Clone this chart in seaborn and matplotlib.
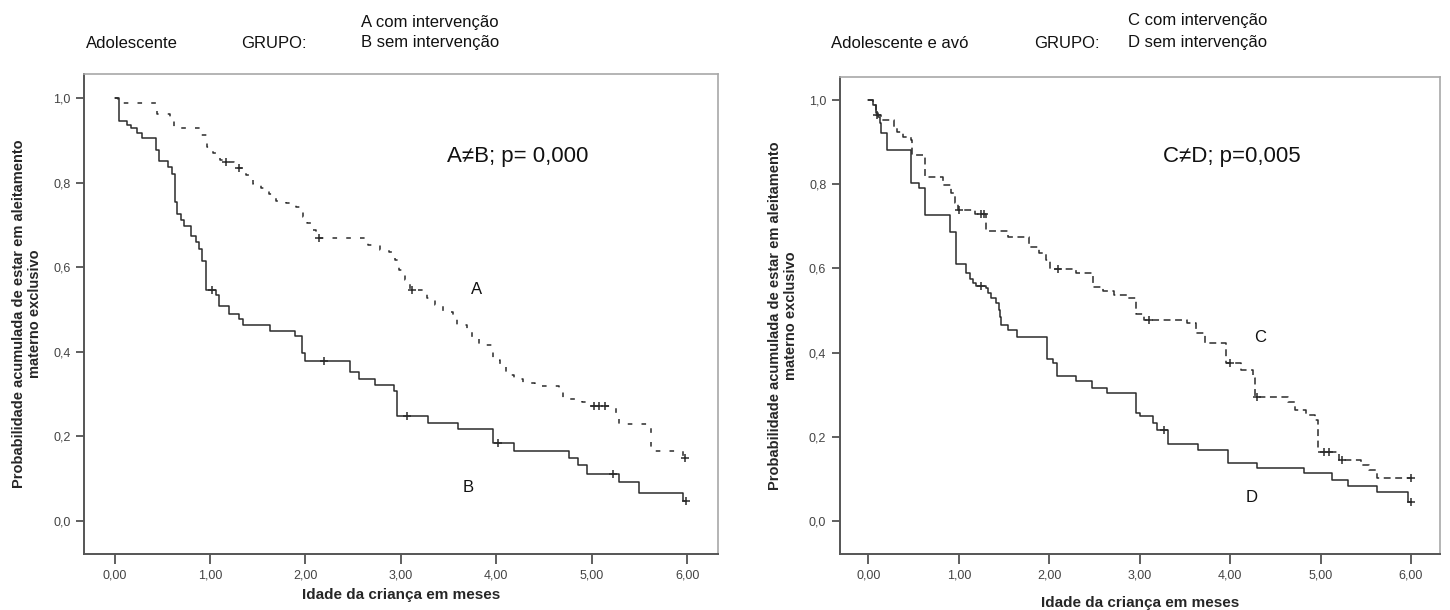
import numpy as np
import pandas as pd
import matplotlib
matplotlib.use('Agg')
import matplotlib.pyplot as plt
import seaborn as sns

# Grupo A (adolescente, com intervenção): tempos (meses) e probabilidade acumulada
a_tempo = [0, 0.03, 0.44, 0.58, 0.625, 0.90, 0.97, 1.03, 1.10, 1.16, 1.25, 1.38, 1.45, 1.53, 1.62,
           1.69, 1.80, 1.90, 1.97, 2.02, 2.07, 2.11, 2.66, 2.78, 2.88, 2.94, 2.98, 3.04, 3.09, 3.27,
           3.36, 3.44, 3.55, 3.59, 3.69, 3.75, 3.82, 3.96, 4.04, 4.10, 4.18, 4.28, 4.40, 4.66, 4.70,
           4.90, 4.98, 5.25, 5.29, 5.62, 5.96]
a_prob = [1.0, 0.987, 0.963, 0.951, 0.928, 0.912, 0.885, 0.869, 0.853, 0.848, 0.834, 0.818, 0.797,
          0.786, 0.774, 0.757, 0.751, 0.743, 0.719, 0.704, 0.688, 0.668, 0.652, 0.641, 0.635, 0.617,
          0.593, 0.570, 0.546, 0.527, 0.511, 0.495, 0.487, 0.463, 0.452, 0.432, 0.416, 0.381, 0.366,
          0.345, 0.335, 0.326, 0.319, 0.311, 0.287, 0.282, 0.272, 0.255, 0.229, 0.166, 0.148]
a_censura = [1.17, 1.30, 2.14, 3.12, 5.02, 5.08, 5.14, 5.98]
a_fim = 5.98

# Grupo B (adolescente, sem intervenção)
b_tempo = [0, 0.05, 0.13, 0.17, 0.23, 0.29, 0.43, 0.46, 0.555, 0.60, 0.63, 0.65, 0.695, 0.73, 0.80,
           0.85, 0.885, 0.92, 0.955, 1.06, 1.09, 1.20, 1.30, 1.35, 1.625, 1.89, 1.96, 2.00, 2.465,
           2.56, 2.73, 2.93, 2.96, 3.28, 3.60, 3.96, 4.19, 4.76, 4.86, 4.955, 5.29, 5.50, 5.96]
b_prob = [1.0, 0.945, 0.936, 0.928, 0.918, 0.905, 0.877, 0.850, 0.836, 0.820, 0.753, 0.725, 0.711,
          0.697, 0.674, 0.660, 0.642, 0.615, 0.546, 0.534, 0.507, 0.489, 0.477, 0.463, 0.449, 0.436,
          0.396, 0.379, 0.352, 0.336, 0.322, 0.308, 0.247, 0.232, 0.217, 0.185, 0.166, 0.148, 0.131,
          0.111, 0.091, 0.067, 0.046]
b_censura = [1.02, 2.19, 3.06, 4.02, 5.22, 5.99]
b_fim = 5.99

# Grupo C (adolescente e avó, com intervenção)
c_tempo = [0, 0.05, 0.085, 0.14, 0.28, 0.31, 0.38, 0.47, 0.48, 0.62, 0.82, 0.91, 0.96, 0.99, 1.18,
           1.30, 1.54, 1.78, 1.89, 1.96, 2.01, 2.30, 2.48, 2.59, 2.72, 2.87, 2.96, 3.05, 3.52, 3.62,
           3.72, 3.96, 4.12, 4.25, 4.28, 4.64, 4.72, 4.84, 4.94, 4.97, 5.20, 5.45, 5.54, 5.62]
c_prob = [1.0, 0.988, 0.964, 0.952, 0.937, 0.925, 0.913, 0.905, 0.869, 0.818, 0.798, 0.778, 0.755,
          0.739, 0.729, 0.690, 0.675, 0.651, 0.637, 0.620, 0.598, 0.590, 0.557, 0.547, 0.537, 0.529,
          0.492, 0.477, 0.470, 0.446, 0.422, 0.375, 0.359, 0.339, 0.295, 0.283, 0.264, 0.252, 0.240,
          0.165, 0.145, 0.133, 0.122, 0.103]
c_censura = [0.09, 1.00, 1.25, 1.28, 2.10, 3.10, 4.00, 4.30, 5.04, 5.09, 5.24, 6.00]
c_fim = 6.0

# Grupo D (adolescente e avó, sem intervenção)
d_tempo = [0, 0.055, 0.08, 0.10, 0.13, 0.14, 0.21, 0.465, 0.56, 0.63, 0.90, 0.97, 1.08, 1.12, 1.16,
           1.19, 1.30, 1.32, 1.36, 1.41, 1.44, 1.45, 1.47, 1.54, 1.64, 1.97, 2.04, 2.08, 2.30, 2.47,
           2.64, 2.96, 3.00, 3.15, 3.19, 3.31, 3.64, 3.98, 4.30, 4.82, 5.13, 5.30, 5.63, 5.97]
d_prob = [1.0, 0.988, 0.970, 0.959, 0.946, 0.922, 0.881, 0.804, 0.792, 0.727, 0.687, 0.610, 0.588,
          0.576, 0.565, 0.558, 0.553, 0.541, 0.529, 0.517, 0.501, 0.485, 0.466, 0.454, 0.438, 0.386,
          0.375, 0.344, 0.333, 0.317, 0.305, 0.256, 0.249, 0.232, 0.216, 0.183, 0.169, 0.139, 0.125,
          0.113, 0.097, 0.083, 0.070, 0.046]
d_censura = [1.24, 3.27, 6.00]
d_fim = 6.0

x_ticks = [0, 1, 2, 3, 4, 5, 6]
x_ticklabels = ['0,00', '1,00', '2,00', '3,00', '4,00', '5,00', '6,00']
y_ticks = [0, 0.2, 0.4, 0.6, 0.8, 1.0]
y_ticklabels = ['0,0', '0,2', '0,4', '0,6', '0,8', '1,0']

sns.set_theme(style='white')
plt.rcParams['font.family'] = ['Liberation Sans', 'DejaVu Sans']

cor = '#2b2b2b'


def curva(ax, tempo, prob, censura, fim, estilo):
    t = list(tempo) + [fim]
    p = list(prob) + [prob[-1]]
    df = pd.DataFrame({'t': t, 'p': p})
    sns.lineplot(data=df, x='t', y='p', ax=ax, drawstyle='steps-post', estimator=None,
                 color=cor, linewidth=1.1, linestyle=estilo)
    idx = np.searchsorted(np.array(tempo), np.array(censura), side='right') - 1
    cens = pd.DataFrame({'t': censura, 'p': np.array(prob)[idx]})
    sns.scatterplot(data=cens, x='t', y='p', ax=ax, marker='+', s=32, color=cor, linewidth=1.1, zorder=3)


def eixo(ax, ylim, pad_x):
    ax.set_xlim(-0.32, 6.32)
    ax.set_ylim(*ylim)
    ax.set_xticks(x_ticks)
    ax.set_xticklabels(x_ticklabels)
    ax.set_yticks(y_ticks)
    ax.set_yticklabels(y_ticklabels)
    ax.tick_params(axis='both', direction='out', length=6, width=1.2, color='#444',
                   labelsize=9, labelcolor='#444', bottom=True, left=True)
    ax.tick_params(axis='x', length=7, pad=4)
    for s in ['left', 'bottom']:
        ax.spines[s].set_color('#555')
        ax.spines[s].set_linewidth(1.4)
    for s in ['top', 'right']:
        ax.spines[s].set_color('#a8a8a8')
        ax.spines[s].set_linewidth(1.2)
    ax.set_xlabel('Idade da criança em meses', fontsize=11, fontweight='bold', labelpad=pad_x)
    ax.set_ylabel('Probabilidade acumulada de estar em aleitamento\nmaterno exclusivo',
                  fontsize=10.5, fontweight='bold', labelpad=8)
    ax.grid(False)


fig = plt.figure(figsize=(14.5, 6.1), dpi=100)
ax1 = fig.add_axes([0.058, 0.092, 0.437, 0.787])
ax2 = fig.add_axes([0.579, 0.092, 0.414, 0.782])

curva(ax1, a_tempo, a_prob, a_censura, a_fim, (0, (3, 6)))
curva(ax1, b_tempo, b_prob, b_censura, b_fim, '-')
eixo(ax1, (-0.078, 1.057), 5)
ax1.text(4.22, 0.861, 'A≠B; p= 0,000', fontsize=16, ha='center', va='center', color='#111')
ax1.text(3.79, 0.546, 'A', fontsize=12, ha='center', va='center', color='#111')
ax1.text(3.70, 0.078, 'B', fontsize=12, ha='center', va='center', color='#111')

curva(ax2, c_tempo, c_prob, c_censura, c_fim, (0, (4.5, 3)))
curva(ax2, d_tempo, d_prob, d_censura, d_fim, '-')
eixo(ax2, (-0.078, 1.055), 11)
ax2.text(4.02, 0.865, 'C≠D; p=0,005', fontsize=16, ha='center', va='center', color='#111')
ax2.text(4.33, 0.435, 'C', fontsize=12, ha='center', va='center', color='#111')
ax2.text(4.24, 0.057, 'D', fontsize=12, ha='center', va='center', color='#111')

# cabeçalhos
W, H = 1450, 610
fig.text(86 / W, 1 - 43 / H, 'Adolescente', fontsize=12, va='center', color='#111')
fig.text(241 / W, 1 - 43 / H, 'GRUPO:', fontsize=12, va='center', color='#111')
fig.text(361 / W, 1 - 22 / H, 'A com intervenção', fontsize=12, va='center', color='#111')
fig.text(361 / W, 1 - 43 / H, 'B sem intervenção', fontsize=12, va='center', color='#111')
fig.text(831 / W, 1 - 43 / H, 'Adolescente e avó', fontsize=12, va='center', color='#111')
fig.text(1034 / W, 1 - 43 / H, 'GRUPO:', fontsize=12, va='center', color='#111')
fig.text(1128 / W, 1 - 20 / H, 'C com intervenção', fontsize=12, va='center', color='#111')
fig.text(1128 / W, 1 - 42 / H, 'D sem intervenção', fontsize=12, va='center', color='#111')

fig.savefig('out.png', dpi=100)
